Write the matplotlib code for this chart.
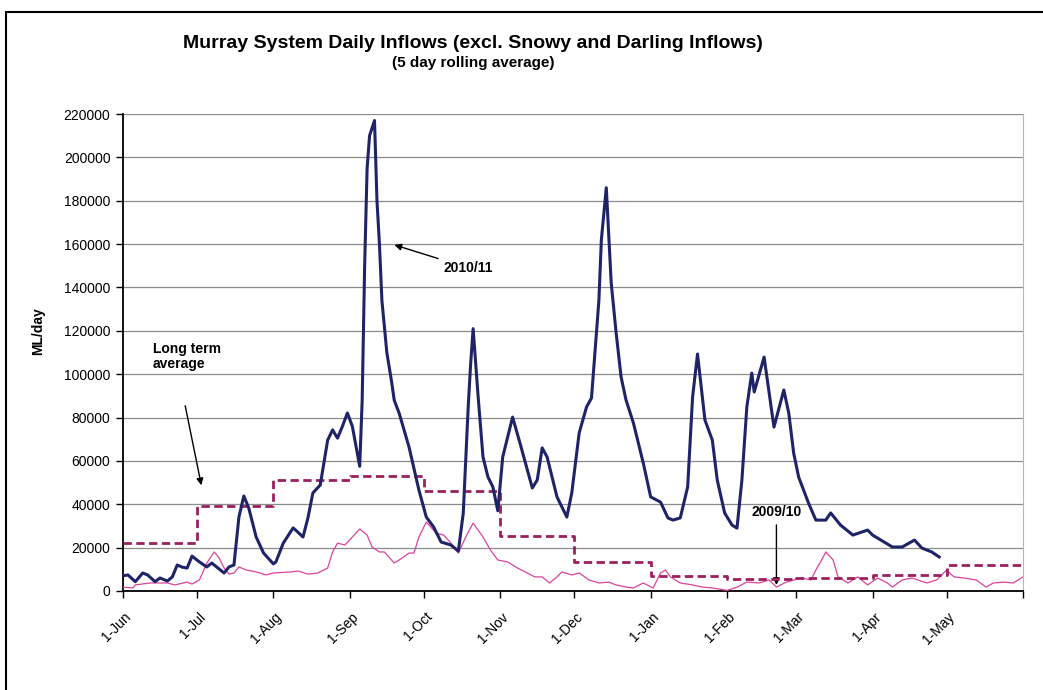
import datetime as dt
import matplotlib
matplotlib.use('Agg')
import matplotlib.pyplot as plt
from matplotlib.patches import Rectangle
from matplotlib.transforms import ScaledTranslation

plt.rcParams['font.family'] = ['Liberation Sans', 'DejaVu Sans']

start = dt.date(2010, 6, 1)

# 2010/11 inflows (day offset from 1-Jun, ML/day)
days_1011 = [0, 2, 5, 8, 10, 13, 15, 18, 20, 22, 24, 26, 28, 31, 34, 36, 41, 43, 45, 47,
             49, 51, 54, 57, 61, 62, 65, 69, 70, 73, 75, 77, 80, 83, 85, 87, 89, 91, 93, 96,
             97, 98, 99, 100, 102, 103, 104, 105, 107, 109, 110, 112, 116, 120, 123, 126, 129, 133, 136, 138,
             140, 141, 142, 144, 146, 148, 150, 152, 154, 158, 161, 166, 168, 170, 172, 176, 180, 182, 185, 188,
             190, 193, 194, 196, 198, 200, 202, 204, 207, 211, 214, 218, 221, 223, 226, 229, 231, 233, 236, 239,
             241, 244, 247, 249, 251, 253, 255, 256, 260, 264, 268, 270, 272, 274, 278, 281, 285, 287, 291, 296,
             302, 304, 312, 316, 321, 324, 328, 331]
flow_1011 = [7000, 7400, 4300, 8300, 7400, 4300, 6000, 4600, 6500, 12000, 11000, 10600, 16100, 13400, 11100, 12900, 8300, 11100, 12000, 34000,
             43800, 38300, 24900, 17500, 12500, 13400, 22100, 29100, 28100, 24900, 33700, 45200, 48900, 69600, 74300, 70500, 76000, 82100, 76000, 57500,
             88000, 150000, 195000, 210000, 217000, 180000, 160000, 134000, 110000, 96000, 88000, 82000, 66400, 46600, 34100, 29500, 22600, 21200, 18400, 36000,
             85000, 105000, 121000, 90000, 61800, 52600, 48000, 37000, 61800, 80200, 68200, 47500, 51200, 66000, 61800, 43400, 34100, 45200, 72900, 84900,
             89000, 134000, 162000, 186000, 142000, 119000, 98700, 88100, 77500, 59000, 43400, 41000, 33700, 32700, 33700, 48000, 89500, 109300, 78900, 69600,
             51200, 36000, 30400, 29000, 51200, 84900, 100500, 91800, 107900, 75600, 92700, 82100, 63600, 52600, 40600, 32700, 32700, 36000, 30400, 25800,
             28100, 25800, 20300, 20300, 23500, 19800, 18000, 15700]

# 2009/10 inflows
days_0910 = [0, 4, 5, 11, 18, 21, 26, 28, 31, 34, 37, 39, 41, 43, 45, 47, 50, 54, 58, 61,
             68, 71, 75, 79, 83, 85, 87, 90, 93, 96, 99, 101, 104, 106, 110, 112, 116, 118, 120, 123,
             127, 130, 133, 136, 139, 142, 146, 149, 152, 156, 160, 164, 167, 170, 173, 176, 178, 182, 185, 189,
             193, 197, 200, 204, 207, 211, 215, 218, 220, 222, 226, 231, 235, 239, 245, 249, 253, 258, 262, 265,
             269, 275, 279, 281, 284, 285, 288, 290, 294, 298, 302, 306, 310, 312, 316, 320, 326, 330, 334, 337,
             341, 346, 350, 353, 357, 361, 365]
flow_0910 = [1800, 1400, 2800, 3700, 3700, 2800, 4100, 3200, 5100, 12900, 18000, 15200, 10600, 7800, 8300, 11100, 9700, 8800, 7400, 8300,
             8800, 9200, 7800, 8300, 10600, 18000, 22100, 21200, 24900, 28600, 25800, 20300, 18000, 18000, 12900, 14300, 17500, 17500, 24900, 31800,
             26700, 25800, 22100, 17500, 24900, 31300, 24900, 18900, 14300, 13400, 10600, 8300, 6500, 6500, 3700, 6500, 8800, 7400, 8300, 5100,
             3700, 4100, 2800, 1800, 1400, 3700, 1400, 8300, 9700, 6500, 3700, 2800, 1800, 1400, 300, 1800, 4100, 3700, 5100, 1800,
             4100, 6000, 5100, 9700, 15700, 18000, 14300, 6500, 3700, 6500, 2800, 6000, 3700, 1800, 5100, 6000, 3700, 5100, 9700, 6500,
             6000, 5100, 1800, 3700, 4100, 3700, 6500]

# long term monthly average
months = ['2010-06-01', '2010-07-01', '2010-08-01', '2010-09-01', '2010-10-01', '2010-11-01',
          '2010-12-01', '2011-01-01', '2011-02-01', '2011-03-01', '2011-04-01', '2011-05-01', '2011-06-01']
month_labels = ['1-Jun', '1-Jul', '1-Aug', '1-Sep', '1-Oct', '1-Nov',
                '1-Dec', '1-Jan', '1-Feb', '1-Mar', '1-Apr', '1-May', '']
long_term = [22300, 39000, 51200, 53000, 46300, 25400, 13400, 7000, 5500, 6000, 7400, 12000]


def to_dates(days):
    return [start + dt.timedelta(days=d) for d in days]


fig = plt.figure(figsize=(10.43, 6.9), dpi=100)
ax = fig.add_axes([123 / 1043, 99 / 690, 900 / 1043, 477 / 690])

ax.plot(to_dates(days_0910), flow_0910, color='#dc439c', lw=0.9, zorder=3)
month_dates = [dt.date.fromisoformat(m) for m in months]
ax.step(month_dates, long_term + [long_term[-1]], where='post', color='#9c1f5e',
        lw=2.0, linestyle=(0, (3, 1.6)), zorder=4)
ax.plot(to_dates(days_1011), flow_1011, color='#1f2468', lw=2.2, zorder=5)

ax.set_xlim(month_dates[0], month_dates[-1])
ax.set_ylim(0, 220000)
ax.set_yticks(range(0, 220001, 20000))
ax.set_xticks(month_dates)
ax.set_xticklabels(month_labels)
ax.grid(axis='y', color='#8c8c8c', lw=0.9)
ax.set_axisbelow(True)

ax.spines['top'].set_visible(False)
ax.spines['right'].set_color('#b7b1e2')
ax.spines['left'].set_linewidth(1.3)
ax.spines['bottom'].set_linewidth(1.3)
ax.tick_params(axis='y', length=5, width=1, labelsize=10, pad=4)
ax.tick_params(axis='x', length=5, width=1, labelsize=10, pad=12)
for lbl in ax.get_xticklabels():
    lbl.set_rotation(45)
    lbl.set_ha('right')
    lbl.set_va('center')
    lbl.set_rotation_mode('anchor')
    lbl.set_transform(lbl.get_transform() + ScaledTranslation(6 / 100, 0, fig.dpi_scale_trans))

ax.set_ylabel('ML/day', fontsize=10, fontweight='bold')
ax.yaxis.set_label_coords(-0.087, 0.545)

fig.text(473 / 1043, 1 - 44 / 690, 'Murray System Daily Inflows (excl. Snowy and Darling Inflows)',
         ha='center', va='center', fontsize=14, fontweight='bold')
fig.text(473 / 1043, 1 - 63 / 690, '(5 day rolling average)', ha='center', va='center',
         fontsize=11, fontweight='bold')

arrow = dict(arrowstyle='-|>', color='black', lw=1.0, mutation_scale=10)
ax.annotate('', xy=(start + dt.timedelta(days=32), 47500),
            xytext=(start + dt.timedelta(days=25.5), 86700), arrowprops=arrow)
ax.text(start + dt.timedelta(days=12), 115000, 'Long term\naverage', fontsize=10,
        fontweight='bold', va='top', ha='left', linespacing=1.1)
ax.annotate('2010/11', xy=(start + dt.timedelta(days=109), 160000),
            xytext=(start + dt.timedelta(days=130), 149000), fontsize=10, fontweight='bold',
            va='center', ha='left', arrowprops=arrow)
ax.annotate('2009/10', xy=(start + dt.timedelta(days=265), 1500),
            xytext=(start + dt.timedelta(days=265), 33000), fontsize=10, fontweight='bold',
            va='bottom', ha='center', arrowprops=arrow)

fig.patches.append(Rectangle((6 / 1043, -0.2), 1.2, 0.2 + 678 / 690, transform=fig.transFigure,
                             fill=False, ec='black', lw=1.5))

fig.savefig('out.png', dpi=100)
